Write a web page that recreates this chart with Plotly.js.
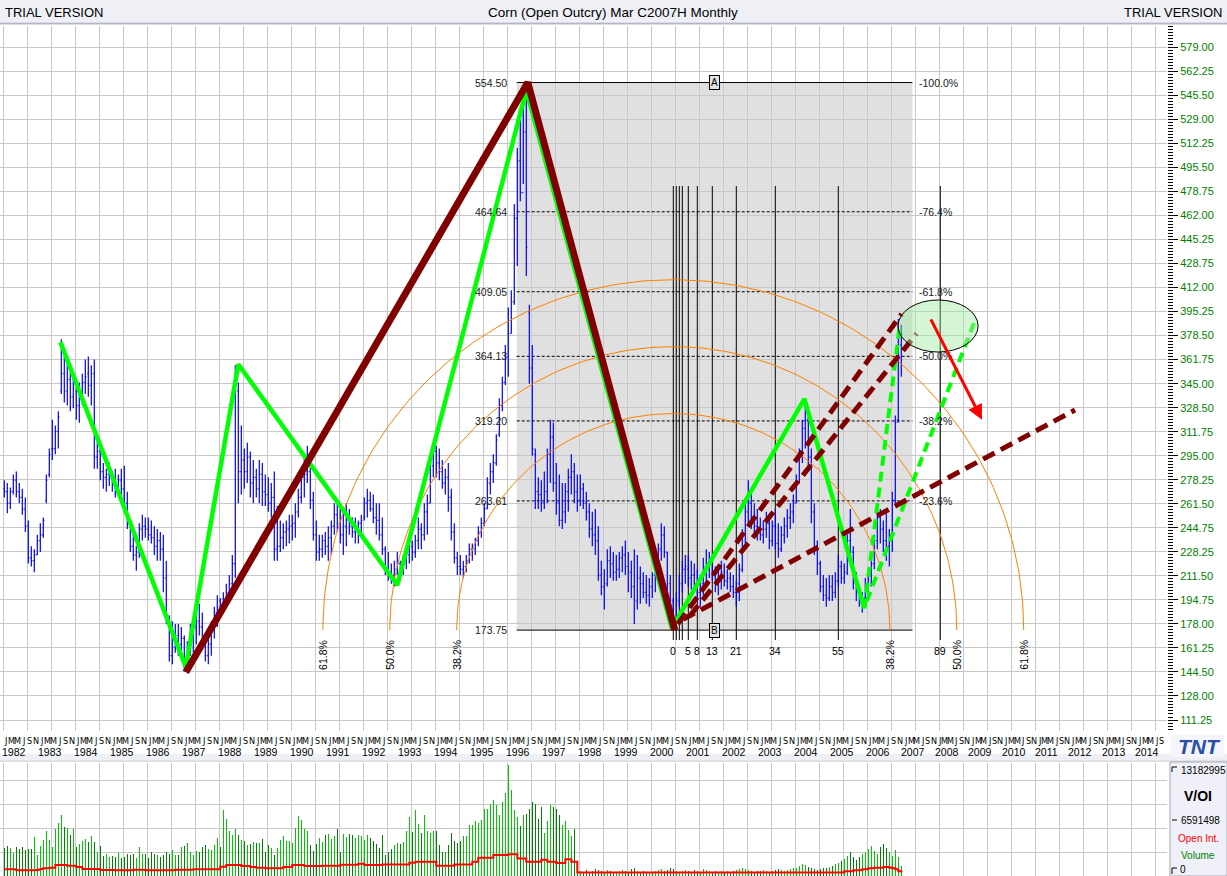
<!DOCTYPE html>
<html><head><meta charset="utf-8">
<script src="https://cdn.plot.ly/plotly-3.0.1.min.js"></script>
<style>html,body{margin:0;padding:0;background:#fff;}#chart{width:1227px;height:876px;}</style>
</head><body><div id="chart"></div>
<script>
// ---------------- DATA (monthly bars, Jan 1982 .. Dec 2006) ----------------
const priceHigh = [
278,276,273,282,284,276,272,266,250,232,230,240,
248,252,282,300,320,316,326,376,368,362,358,352,
342,346,352,362,364,358,362,310,300,290,286,290,
284,286,282,286,288,270,250,240,232,248,254,252,
252,250,246,244,242,240,222,184,180,178,178,176,
170,166,178,180,184,192,186,172,168,180,190,198,
196,200,206,212,226,358,346,316,300,304,298,292,
286,292,290,282,280,276,284,260,250,248,250,254,
254,262,272,286,296,302,296,270,250,240,240,242,
246,250,262,262,258,256,262,258,252,252,250,254,
266,272,270,268,262,262,252,232,228,220,222,228,
222,226,230,236,236,240,252,248,262,268,294,304,
302,300,292,286,290,272,248,228,226,222,226,234,
234,238,246,252,262,280,290,296,310,335,350,372,
398,410,470,509,531,548,554.5,400,372,300,280,278,
284,300,320,318,290,282,276,276,286,296,290,282,
282,276,270,262,256,258,246,222,216,230,232,228,
226,228,232,236,228,222,230,226,218,214,212,210,
214,220,234,248,246,228,212,196,200,212,222,226,
226,222,220,216,212,224,230,228,226,218,216,222,
220,216,214,212,208,220,244,262,278,270,262,258,
252,250,256,252,250,258,248,246,252,258,262,268,
282,300,320,334,326,300,262,236,222,212,210,212,
212,214,226,222,220,240,258,232,214,204,200,210,
216,224,240,262,258,250,256,244,270,323,390,386];
const priceLow = [
266,255,258,268,266,262,254,242,220,218,214,226,
228,238,262,280,292,296,300,338,332,330,326,328,
320,318,330,338,336,330,286,286,278,272,270,274,
270,266,270,268,258,244,228,222,215,224,236,238,
236,234,226,222,222,200,178,152,150,158,156,160,
145,150,156,158,164,170,160,152,150,156,168,176,
182,186,190,194,198,210,262,268,272,276,266,262,
266,262,260,260,256,252,222,222,228,230,232,234,
236,238,252,262,266,276,258,236,222,222,224,226,
222,226,240,242,234,226,232,240,238,234,234,238,
250,252,256,248,240,236,226,212,208,206,204,212,
208,212,216,220,222,224,230,230,236,240,262,280,
280,278,272,268,256,236,220,212,212,210,214,220,
222,226,232,238,246,258,268,276,288,308,326,344,
350,380,400,427,472,484,420,345,295,258,258,256,
258,262,276,270,254,246,244,248,256,268,262,256,
260,258,250,238,232,226,208,198,188,204,210,208,
208,210,214,212,200,196,178,188,192,196,192,190,
196,200,212,222,224,200,190,173.75,178,190,200,206,
204,202,200,194,190,198,204,210,208,200,198,202,
204,202,200,196,190,194,214,234,246,244,240,236,
236,234,238,230,232,230,224,228,234,238,244,248,
262,276,290,300,286,248,226,212,200,194,190,194,
194,196,204,206,206,212,220,202,194,190,186,194,
198,204,216,230,234,228,222,218,228,262,318,350];
const priceOpen = [
272,270,262,270,278,270,266,258,246,224,222,226,
236,240,264,282,300,300,312,340,352,340,348,336,
340,330,338,346,352,344,352,294,298,284,280,282,
284,276,274,278,272,262,248,232,226,228,244,246,
244,240,238,232,236,230,210,182,156,162,170,164,
168,152,162,172,176,180,176,164,156,164,176,186,
194,190,196,200,206,220,340,284,292,284,294,276,
280,272,282,270,268,262,266,230,232,238,242,244,
246,248,256,266,280,282,284,264,240,228,230,236,
232,238,246,254,248,240,246,250,246,242,244,248,
252,262,264,258,252,250,240,230,216,214,212,216,
220,216,222,226,232,228,236,244,240,256,262,288,
298,290,284,276,280,266,242,224,218,216,218,222,
230,230,236,242,248,258,276,284,290,310,330,346,
364,380,402,460,500,478,520,395,356,296,270,268,
262,270,296,308,276,262,250,256,270,280,284,270,
264,272,262,256,244,240,236,212,204,206,222,220,
214,216,224,226,218,214,204,194,210,206,200,198,
204,212,218,230,240,228,206,194,180,194,206,216,
216,210,212,206,200,206,218,220,222,214,206,210,
214,208,210,204,200,206,216,240,256,262,252,246,
244,240,244,248,236,246,234,230,240,246,252,256,
262,276,296,314,320,294,256,232,220,204,198,196,
204,200,208,218,210,214,236,228,206,200,196,196,
206,212,220,236,252,244,236,232,240,264,320,372];
const priceClose = [
270,262,270,278,270,266,258,246,224,222,226,236,
240,250,278,296,300,312,322,352,340,348,336,342,
330,338,346,350,344,352,294,298,284,280,282,284,
276,274,278,272,262,248,232,226,228,244,246,244,
240,238,232,236,230,210,182,156,162,170,164,168,
152,162,172,176,180,176,164,156,164,176,186,190,
190,196,200,206,220,340,284,292,284,294,276,280,
272,282,270,268,262,266,230,232,238,242,244,246,
248,256,266,280,282,284,264,240,228,230,236,232,
238,246,254,248,240,246,250,246,242,244,248,250,
262,264,258,252,250,240,230,216,214,212,216,220,
216,222,226,232,228,236,244,240,256,262,288,298,
290,284,276,280,266,242,224,218,216,218,222,230,
230,236,242,248,258,276,284,290,306,330,346,366,
380,402,460,500,478,520,440,356,300,270,268,262,
270,296,308,276,262,250,256,270,280,284,270,264,
272,262,256,244,240,236,212,204,206,222,220,214,
216,224,226,218,214,204,194,210,206,200,198,204,
212,218,230,240,228,206,194,180,194,206,216,218,
210,212,206,200,206,218,220,222,214,206,210,214,
208,210,204,200,206,216,240,256,262,252,246,244,
240,244,248,236,246,234,230,240,246,252,256,262,
276,296,314,320,294,256,232,220,204,198,196,204,
200,208,218,210,214,236,228,206,200,196,196,206,
212,220,236,252,244,236,232,240,264,318,372,380];
// volume and open interest, millions
const volumeM = [
3.3,3.6,3.3,2.7,3.4,3.2,3.4,3.1,3.2,3.2,4.6,2.5,
3.6,4.3,5.3,4.3,3.5,5.6,6.3,7.3,5.8,5.7,4.9,5.6,
3.4,3.8,4.2,4.4,4.0,4.8,4.0,2.9,3.6,2.4,2.6,2.2,
2.4,2.3,2.7,2.1,2.3,2.6,2.5,2.6,2.1,3.4,2.6,2.6,
2.1,2.8,2.6,2.5,2.2,2.5,2.9,2.6,3.1,2.5,2.5,3.5,
3.6,3.9,2.8,2.5,3.0,2.9,3.4,3.7,3.2,3.1,3.7,4.5,
3.4,7.8,6.8,5.3,4.9,5.6,4.9,4.3,4.1,3.7,3.8,4.0,
3.9,3.9,4.4,2.9,3.7,3.3,2.5,3.3,4.3,4.7,4.1,4.1,
3.9,5.7,7.1,6.6,5.6,5.4,3.7,3.0,3.8,4.5,4.0,4.9,
5.0,4.4,4.7,5.6,2.9,5.0,4.6,5.0,4.9,4.5,4.9,4.7,
4.3,4.9,4.5,4.1,3.8,3.3,4.9,2.5,2.9,3.2,3.7,3.9,
3.8,4.0,5.3,7.0,5.2,7.8,6.2,5.1,7.2,5.3,5.1,5.3,
5.3,3.7,2.9,2.9,3.7,5.1,4.1,3.9,4.2,4.7,4.8,6.1,
6.1,6.5,6.3,6.7,8.0,8.0,8.6,9.0,8.4,7.2,8.8,9.8,
13.18,10.2,7.8,7.0,5.9,7.2,7.4,8.0,8.8,8.6,6.8,8.2,
5.1,6.5,8.4,8.2,8.0,7.2,6.0,6.5,5.5,4.8,5.6,0.5,
0.6,0.5,0.7,0.5,0.6,0.8,0.7,0.6,0.5,0.7,0.6,0.5,
0.5,0.6,0.7,0.6,0.5,0.8,0.9,0.6,0.5,0.6,0.5,0.4,
0.5,0.6,0.7,0.8,0.6,0.7,0.9,0.8,0.6,0.5,0.6,0.7,
0.6,0.5,0.7,0.6,0.5,0.8,0.7,0.6,0.5,0.6,0.5,0.6,
0.5,0.6,0.5,0.6,0.7,0.8,0.9,0.8,0.7,0.6,0.5,0.6,
0.6,0.7,0.6,0.5,0.6,0.7,0.8,0.7,0.6,0.7,0.8,0.9,
1.0,1.2,1.4,1.3,1.1,0.9,0.8,0.7,0.8,0.9,1.0,1.1,
1.2,1.4,1.6,1.8,2.0,2.4,2.8,2.2,1.9,2.3,2.6,2.9,
3.2,3.6,3.0,2.6,3.4,3.8,3.3,2.9,2.4,3.1,2.2,1.2];
const openInterestM = [
0.79,0.79,0.79,0.79,0.67,0.67,0.67,0.67,0.67,0.67,0.67,0.75,
0.83,0.91,0.91,0.99,0.99,1.30,1.30,1.30,1.30,1.22,1.22,1.22,
1.07,1.07,0.83,0.83,0.83,0.83,0.83,0.83,0.71,0.71,0.71,0.71,
0.71,0.67,0.67,0.67,0.67,0.67,0.67,0.75,0.75,0.75,0.75,0.67,
0.67,0.67,0.67,0.67,0.67,0.67,0.67,0.67,0.67,0.75,0.75,0.75,
0.75,0.75,0.75,0.79,0.79,0.79,0.79,0.79,0.79,0.79,0.79,0.79,
1.10,1.10,1.30,1.30,1.30,1.30,1.30,1.18,1.18,1.18,1.07,1.07,
0.99,0.99,0.99,0.91,0.91,0.91,0.91,0.91,0.91,1.07,1.07,1.07,
1.30,1.30,1.30,1.30,1.18,1.18,1.18,1.18,1.18,1.18,1.22,1.22,
1.22,1.22,1.22,1.22,1.34,1.34,1.34,1.34,1.34,1.34,1.46,1.46,
1.30,1.30,1.30,1.30,1.30,1.30,1.38,1.38,1.38,1.38,1.38,1.38,
1.38,1.38,1.38,1.58,1.58,1.70,1.70,1.70,1.70,1.70,1.70,1.70,
1.22,1.22,1.22,1.22,1.22,1.22,1.38,1.38,1.38,1.38,1.38,1.38,
1.70,1.70,2.17,2.17,2.17,2.17,2.17,2.49,2.49,2.49,2.49,2.49,
2.57,2.57,2.57,2.09,2.09,2.09,1.70,1.70,1.70,1.70,1.70,1.94,
1.94,1.70,1.70,1.70,1.54,1.54,1.54,1.98,1.98,1.70,1.70,0.43,
0.43,0.43,0.43,0.43,0.43,0.43,0.43,0.43,0.43,0.43,0.43,0.43,
0.43,0.43,0.43,0.43,0.43,0.43,0.43,0.43,0.43,0.43,0.43,0.43,
0.43,0.43,0.43,0.43,0.43,0.43,0.43,0.43,0.43,0.43,0.43,0.43,
0.43,0.43,0.43,0.43,0.43,0.43,0.43,0.43,0.43,0.43,0.43,0.43,
0.43,0.43,0.43,0.43,0.43,0.43,0.43,0.43,0.43,0.43,0.43,0.43,
0.43,0.43,0.43,0.43,0.43,0.43,0.43,0.43,0.43,0.43,0.43,0.43,
0.43,0.43,0.43,0.43,0.43,0.43,0.43,0.43,0.43,0.43,0.43,0.43,
0.43,0.43,0.43,0.43,0.55,0.55,0.55,0.67,0.67,0.67,0.79,0.79,
0.91,0.91,0.99,0.99,0.99,1.07,1.07,0.99,0.91,0.79,0.55,0.43];
const volumeTopLabel = '13182995', volumeMidLabel = '6591498', volumeZeroLabel = '0';
const volumeAxisTopM = 13.182995;

const priceTickText = ['111.25','128.00','144.50','161.25','178.00','194.75','211.50','228.25','244.75','261.50','278.25','295.00','311.75','328.50','345.00','361.75','378.50','395.25','412.00','428.75','445.25','462.00','478.75','495.50','512.25','529.00','545.50','562.25','579.00'];
const priceTickLow = 111.25, priceTickHigh = 579.00;

const yearLabels = ['1982','1983','1984','1985','1986','1987','1988','1989','1990','1991','1992','1993','1994','1995','1996','1997','1998','1999','2000','2001','2002','2003','2004','2005','2006','2007','2008','2009','2010','2011','2012','2013','2014'];
const monthLetters = ['J','M','M','J','S','N'];
const monthLetterMonths = [0,2,4,6,8,10];

// Fibonacci retracement (A = 1996 top, B = 2000 low)
const pivotA = {bar: 174, price: 554.50};
const pivotB = {bar: 223, price: 173.75};
const fibLevels = [554.50, 464.64, 409.05, 364.13, 319.20, 263.61, 173.75];
const fibLevelText = ['554.50','464.64','409.05','364.13','319.20','263.61','173.75'];
const fibPctText = ['-100.0%','-76.4%','-61.8%','-50.0%','-38.2%','-23.6%',''];
const fibBoxBars = [170.8, 302.7];
const fibTimeSteps = [0,1,2,3,5,8,13,21,34,55,89];
const fibTimeText = ['0','','','','5','8','13','21','34','55','89'];
const fibArcRatios = [0.618, 0.5, 0.382];
const fibArcText = ['61.8%','50.0%','38.2%'];

// Hand-drawn zig-zag (green) and trend lines (brown)
const greenZigBars  = [18.7, 60.5, 78.0, 131.0, 174.0, 222.5, 266.7, 286.6];
const greenZigPrice = [374, 148, 358.6, 205, 549, 175, 334.5, 189];
const brownBars  = [60.5, 174.5, 223.5];
const brownPrice = [144.5, 554.5, 173.75];
const brownDash1 = {bars:[224.5, 299.1], price:[178.0, 393.6]};
const brownDash2 = {bars:[228.6, 304.1], price:[183.8, 379.9]};
const brownDash3 = {bars:[226.3, 356.9], price:[181.3, 326.8]};
const greenDash1 = {bars:[286.7, 298.6], price:[188.7, 387.4]};
const greenDash2 = {bars:[287.5, 323.6], price:[194.0, 389.3]};
const redArrow = {fromBar:308.6, fromPrice:390.9, toBar:325.9, toPrice:320.0};
const targetEllipse = {bar0:297.9, bar1:324.6, price0:367.1, price1:403.3};

// ---------------- LAYOUT GEOMETRY ----------------
const W = 1227, H = 876;
const PLOT_R = 1167;
const MAIN_TOP = 26, MAIN_BOT = 731, VOL_TOP = 763, VOL_BOT = 876;
const PX0 = 4.3, PXB = 3.0;          // bar i drawn at PX0 + PXB*i
const PY579 = 47.3, PYPP = 1.43816;  // pixel per price unit
const FUTURE_SCALE = 0.9286, FUTURE_START = 300;
const xmin = (0 - PX0) / PXB, xmax = (PLOT_R - PX0) / PXB;
const ymax = 579 + (PY579 - MAIN_TOP) / PYPP, ymin = 579 - (MAIN_BOT - PY579) / PYPP;
const volPxPerM = 111 / volumeAxisTopM;
const volRangeTop = (VOL_BOT - VOL_TOP) / volPxPerM;

const barX = priceHigh.map((_, i) => i);
function axisPos(m){ return m <= FUTURE_START ? m : FUTURE_START + (m - FUTURE_START) * FUTURE_SCALE; }
const priceTickVals = priceTickText.map((_, k) => priceTickLow + k * (priceTickHigh - priceTickLow) / (priceTickText.length - 1));

const FONT = 'Liberation Sans, Arial, Helvetica, sans-serif';
const NARROW = 'Liberation Sans Narrow, DejaVu Sans Condensed, Arial Narrow, Liberation Sans, sans-serif';
function P(px, py){ return {x: px / W, y: 1 - py / H, xref: 'paper', yref: 'paper'}; }

// ---------------- TRACES ----------------
const traces = [];
const R = Math.hypot((pivotA.bar - pivotB.bar) * PXB, (pivotA.price - pivotB.price) * PYPP);
fibArcRatios.forEach(r => {
  const xs = [], ys = [];
  for (let k = 0; k <= 180; k++) {
    const t = Math.PI * k / 180;
    xs.push(pivotB.bar + r * R * Math.cos(t) / PXB);
    ys.push(pivotB.price + r * R * Math.sin(t) / PYPP);
  }
  traces.push({type:'scatter', mode:'lines', x:xs, y:ys, xaxis:'x', yaxis:'y',
    line:{color:'#FF8000', width:1}, hoverinfo:'skip', showlegend:false});
});
traces.push({type:'ohlc', x:barX, open:priceOpen, high:priceHigh, low:priceLow, close:priceClose,
  xaxis:'x', yaxis:'y', tickwidth:0.35,
  increasing:{line:{color:'#0000FF', width:1.2}}, decreasing:{line:{color:'#0000FF', width:1.2}},
  hoverinfo:'skip', showlegend:false});
traces.push({type:'scatter', mode:'lines', x:greenZigBars, y:greenZigPrice, xaxis:'x', yaxis:'y',
  line:{color:'#00FF00', width:4.5}, hoverinfo:'skip', showlegend:false});
traces.push({type:'scatter', mode:'lines', x:brownBars, y:brownPrice, xaxis:'x', yaxis:'y',
  line:{color:'#800000', width:7}, hoverinfo:'skip', showlegend:false});
[greenDash1, greenDash2].forEach(d => traces.push({type:'scatter', mode:'lines', x:d.bars, y:d.price,
  xaxis:'x', yaxis:'y', line:{color:'#00FF00', width:4, dash:'10px,6px'}, hoverinfo:'skip', showlegend:false}));
[brownDash1, brownDash2, brownDash3].forEach(d => traces.push({type:'scatter', mode:'lines', x:d.bars, y:d.price,
  xaxis:'x', yaxis:'y', line:{color:'#800000', width:5, dash:'13px,7px'}, hoverinfo:'skip', showlegend:false}));
const volColors = priceClose.map((c, i) => c >= priceOpen[i] ? '#00C800' : '#008000');
traces.push({type:'bar', x:barX, y:volumeM, xaxis:'x2', yaxis:'y2', width:0.45,
  marker:{color:volColors, line:{width:0}}, hoverinfo:'skip', showlegend:false});
traces.push({type:'scatter', mode:'lines', x:barX, y:openInterestM, xaxis:'x2', yaxis:'y2',
  line:{color:'#FF0000', width:2, shape:'hv'}, hoverinfo:'skip', showlegend:false});

// ---------------- SHAPES ----------------
const shapes = [];
shapes.push({type:'rect', xref:'paper', yref:'paper', x0:0, x1:1, y0:1 - 22 / H, y1:1, fillcolor:'#EEF0F6', line:{width:0}, layer:'below'});
shapes.push({type:'line', xref:'paper', yref:'paper', x0:0, x1:1, y0:1 - 23.5 / H, y1:1 - 23.5 / H, line:{color:'#B4B6C8', width:2}});
shapes.push({type:'rect', xref:'paper', yref:'paper', x0:0, x1:1, y0:1 - 760 / H, y1:1 - 754 / H, fillcolor:'#EEF0F6', line:{width:0}, layer:'below'});
shapes.push({type:'line', xref:'paper', yref:'paper', x0:0, x1:1, y0:1 - 761 / H, y1:1 - 761 / H, line:{color:'#C0C2CC', width:1}});
shapes.push({type:'rect', xref:'paper', yref:'paper', x0:1170 / W, x1:1, y0:0, y1:1 - 762 / H, fillcolor:'#F0F1F8', line:{color:'#A8A8B0', width:1}});
shapes.push({type:'rect', xref:'paper', yref:'paper', x0:1170 / W, x1:1224 / W, y0:1 - 757 / H, y1:1 - 735 / H, fillcolor:'#F4F6FC', line:{width:0}});
shapes.push({type:'path', xref:'paper', yref:'paper', path:`M ${1177/W} ${1-767/H} L ${1172/W} ${1-767/H} L ${1172/W} ${1-772/H}`, line:{color:'#000', width:1}});
shapes.push({type:'line', xref:'paper', yref:'paper', x0:1172 / W, x1:1177 / W, y0:1 - 820 / H, y1:1 - 820 / H, line:{color:'#000', width:1}});
shapes.push({type:'path', xref:'paper', yref:'paper', path:`M ${1172/W} ${1-874/H} L ${1172/W} ${1-868/H} L ${1177/W} ${1-868/H}`, line:{color:'#000', width:1}});
shapes.push({type:'rect', xref:'x', yref:'y', x0:fibBoxBars[0], x1:fibBoxBars[1], y0:pivotB.price, y1:pivotA.price,
  fillcolor:'#E0E0E0', line:{width:0}, layer:'below'});
fibLevels.forEach((lv, k) => {
  const solid = (k === 0 || k === fibLevels.length - 1);
  shapes.push({type:'line', xref:'x', yref:'y', x0:fibBoxBars[0], x1:fibBoxBars[1], y0:lv, y1:lv,
    line:{color:'#000', width:1, dash: solid ? 'solid' : '3px,2px'}, layer:'between'});
});
const timeTop = 579 - (186 - PY579) / PYPP, timeBot = 579 - (640 - PY579) / PYPP;
fibTimeSteps.forEach(s => shapes.push({type:'line', xref:'x', yref:'y', x0:pivotB.bar + s, x1:pivotB.bar + s,
  y0:timeBot, y1:timeTop, line:{color:'#000', width:1}, layer:'between'}));
shapes.push({type:'circle', xref:'x', yref:'y', x0:targetEllipse.bar0, x1:targetEllipse.bar1,
  y0:targetEllipse.price0, y1:targetEllipse.price1, fillcolor:'rgba(160,235,160,0.45)', line:{color:'#000', width:1}});

// ---------------- ANNOTATIONS ----------------
const ann = [];
ann.push(Object.assign(P(3, 12), {text:'TRIAL VERSION', showarrow:false, xanchor:'left', yanchor:'middle', font:{family:FONT, size:13, color:'#000'}}));
ann.push(Object.assign(P(613, 12), {text:'Corn (Open Outcry) Mar C2007H Monthly', showarrow:false, xanchor:'center', yanchor:'middle', font:{family:FONT, size:13.5, color:'#000'}}));
ann.push(Object.assign(P(1224, 12), {text:'TRIAL VERSION', showarrow:false, xanchor:'right', yanchor:'middle', font:{family:FONT, size:13, color:'#000'}}));
yearLabels.forEach((y, k) => {
  ann.push({xref:'x', yref:'paper', x:axisPos(12 * k + 3.2), y:1 - 752 / H, text:y, showarrow:false,
    xanchor:'center', yanchor:'middle', font:{family:FONT, size:10.5, color:'#000'}});
  monthLetterMonths.forEach((m, j) => ann.push({xref:'x', yref:'paper', x:axisPos(12 * k + m + 0.5), y:1 - 741 / H,
    text:monthLetters[j], showarrow:false, xanchor:'center', yanchor:'middle', font:{family:NARROW, size:9, color:'#000'}}));
});
fibLevels.forEach((lv, k) => {
  ann.push({xref:'x', yref:'y', x:fibBoxBars[0], y:lv, xshift:-8, text:fibLevelText[k], showarrow:false, xanchor:'right', yanchor:'middle', font:{family:FONT, size:10.5, color:'#202020'}});
  if (fibPctText[k]) ann.push({xref:'x', yref:'y', x:fibBoxBars[1], y:lv, xshift:5, text:fibPctText[k], showarrow:false, xanchor:'left', yanchor:'middle', font:{family:FONT, size:10.5, color:'#202020'}});
});
const boxMid = (fibBoxBars[0] + fibBoxBars[1]) / 2;
['A','B'].forEach((t, k) => ann.push({xref:'x', yref:'y', x:boxMid, y: k === 0 ? pivotA.price : pivotB.price, text:t, showarrow:false,
  font:{family:FONT, size:10, color:'#000'}, bgcolor:'#E4E4E4', bordercolor:'#000', borderwidth:1, borderpad:1, xanchor:'center', yanchor:'middle'}));
const timeLabelY = 579 - (651 - PY579) / PYPP;
fibTimeSteps.forEach((s, k) => { if (fibTimeText[k]) ann.push({xref:'x', yref:'y', x:pivotB.bar + s, y:timeLabelY, text:fibTimeText[k], showarrow:false,
  xanchor:'center', yanchor:'middle', font:{family:FONT, size:10.5, color:'#000'}}); });
const arcLabelY = 579 - (655 - PY579) / PYPP;
fibArcRatios.forEach((r, k) => [-1, 1].forEach(sg => ann.push({xref:'x', yref:'y', x:pivotB.bar + sg * r * R / PXB, y:arcLabelY,
  text:fibArcText[k], textangle:-90, showarrow:false, xanchor:'center', yanchor:'middle', font:{family:FONT, size:10.5, color:'#000'}})));
ann.push({xref:'x', yref:'y', axref:'x', ayref:'y', x:redArrow.toBar, y:redArrow.toPrice, ax:redArrow.fromBar, ay:redArrow.fromPrice,
  text:'', showarrow:true, arrowhead:2, arrowsize:1, arrowwidth:3, arrowcolor:'#FF0000'});
ann.push(Object.assign(P(1199, 746), {text:'<b><i>TNT</i></b>', showarrow:false, xanchor:'center', yanchor:'middle', font:{family:FONT, size:21, color:'#2A4FA8'}}));
ann.push(Object.assign(P(1179, 770), {text:volumeTopLabel, showarrow:false, xanchor:'left', yanchor:'middle', font:{family:FONT, size:10, color:'#000'}}));
ann.push(Object.assign(P(1198, 796), {text:'<b>V/OI</b>', showarrow:false, xanchor:'center', yanchor:'middle', font:{family:FONT, size:14, color:'#000'}}));
ann.push(Object.assign(P(1179, 820), {text:volumeMidLabel, showarrow:false, xanchor:'left', yanchor:'middle', font:{family:FONT, size:10, color:'#000'}}));
ann.push(Object.assign(P(1198, 838), {text:'Open Int.', showarrow:false, xanchor:'center', yanchor:'middle', font:{family:FONT, size:10, color:'#FF0000'}}));
ann.push(Object.assign(P(1198, 855), {text:'Volume', showarrow:false, xanchor:'center', yanchor:'middle', font:{family:FONT, size:10, color:'#008000'}}));
ann.push(Object.assign(P(1178, 869), {text:volumeZeroLabel, showarrow:false, xanchor:'left', yanchor:'middle', font:{family:FONT, size:10, color:'#000'}}));

// ---------------- LAYOUT ----------------
const gridX = {range:[xmin, xmax], showgrid:true, gridcolor:'#C8C8C8', gridwidth:1, tick0:-0.25, dtick:8,
  showticklabels:false, ticks:'', zeroline:false, showline:false, fixedrange:true, automargin:false,
  rangeslider:{visible:false}};
const layout = {
  width:W, height:H, margin:{l:0, r:0, t:0, b:0, pad:0, autoexpand:false}, paper_bgcolor:'#FFFFFF', plot_bgcolor:'#FFFFFF',
  showlegend:false, hovermode:false, bargap:0,
  xaxis: Object.assign({domain:[0, PLOT_R / W], anchor:'y'}, gridX),
  xaxis2: Object.assign({domain:[0, PLOT_R / W], anchor:'y2'}, gridX),
  yaxis: {domain:[(H - MAIN_BOT) / H, (H - MAIN_TOP) / H], range:[ymin, ymax], anchor:'x', side:'right',
    tickmode:'array', tickvals:priceTickVals, ticktext:priceTickText, ticks:'outside', ticklen:10, tickcolor:'#000', tickwidth:1,
    tickfont:{family:FONT, size:11, color:'#008000'}, showgrid:true, gridcolor:'#C8C8C8', zeroline:false, showline:false,
    minor:{tickmode:'linear', tick0:priceTickLow, dtick:(priceTickHigh - priceTickLow) / (priceTickText.length - 1) / 8, ticks:'outside', ticklen:5, tickcolor:'#000', showgrid:false},
    fixedrange:true, automargin:false},
  yaxis2: {domain:[0, (VOL_BOT - VOL_TOP) / H], range:[0, volRangeTop], anchor:'x2', side:'right',
    tick0:0, dtick:24 / volPxPerM, showticklabels:false, ticks:'', showgrid:true, gridcolor:'#C8C8C8', zeroline:false, showline:false, fixedrange:true, automargin:false},
  shapes: shapes, annotations: ann
};
Plotly.newPlot('chart', traces, layout, {staticPlot:true, displayModeBar:false});
</script></body></html>
